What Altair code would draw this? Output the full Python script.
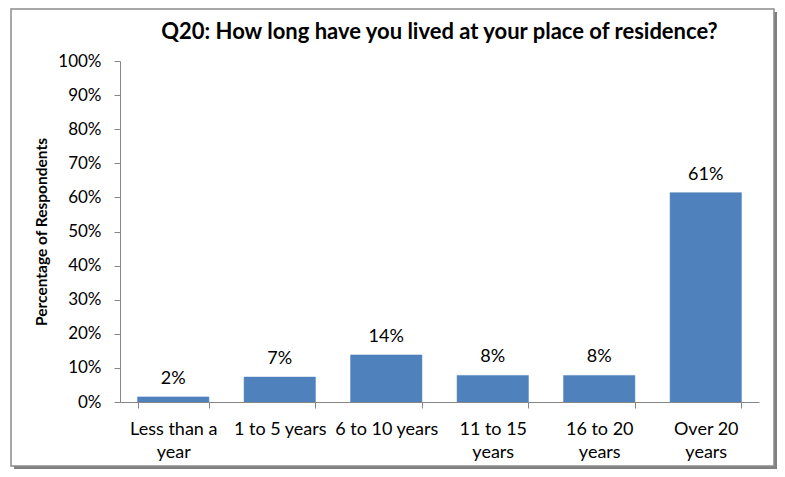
import altair as alt
import pandas as pd

categories = ["Less than a year", "1 to 5 years", "6 to 10 years",
              "11 to 15 years", "16 to 20 years", "Over 20 years"]
values = [0.015, 0.073, 0.138, 0.078, 0.078, 0.614]
label_text = ["2%", "7%", "14%", "8%", "8%", "61%"]
y_ticks = [0.0, 0.1, 0.2, 0.3, 0.4, 0.5, 0.6, 0.7, 0.8, 0.9, 1.0]
wrapped = {
    "Less than a year": ["Less than a", "year"],
    "1 to 5 years": ["1 to 5 years"],
    "6 to 10 years": ["6 to 10 years"],
    "11 to 15 years": ["11 to 15", "years"],
    "16 to 20 years": ["16 to 20", "years"],
    "Over 20 years": ["Over 20", "years"],
}

df = pd.DataFrame({"cat": categories, "val": values, "lab": label_text})

expr = "''"
for k, v in reversed(list(wrapped.items())):
    arr = "[" + ",".join("'" + s + "'" for s in v) + "]"
    expr = f"datum.label == '{k}' ? {arr} : ({expr})"

FONT = "Lato"
FS = 18

frame_data = alt.Data(values=[{"a": 1}])
shadow = alt.Chart(frame_data).mark_rect(fill="#808080").encode(
    x=alt.value(-106), x2=alt.value(657), y=alt.value(-49), y2=alt.value(408)
)
frame = alt.Chart(frame_data).mark_rect(fill="white", stroke="#8c8c8c", strokeWidth=1.5).encode(
    x=alt.value(-109), x2=alt.value(654), y=alt.value(-52), y2=alt.value(405)
)

x = alt.X("cat:N", sort=categories, title=None,
          scale=alt.Scale(paddingInner=0.33, paddingOuter=0.165),
          axis=alt.Axis(labelAngle=0, labelExpr=expr, tickBand="extent",
                        labelFontSize=FS, labelFont=FONT, labelColor="black",
                        labelPadding=12, labelLineHeight=23, tickSize=6,
                        domainColor="#868686", tickColor="#868686",
                        labelBaseline="top", zindex=1))
y = alt.Y("val:Q", title="Percentage of Respondents",
          scale=alt.Scale(domain=[0, 1], nice=False),
          axis=alt.Axis(format=".0%", values=y_ticks,
                        labelFontSize=17, labelFont=FONT, labelColor="black",
                        labelOverlap=False, labelFlush=False, labelBound=False,
                        labelPadding=13, tickSize=6, grid=False,
                        domainColor="#868686", tickColor="#868686",
                        titleFont=FONT, titleFontSize=15.5, titleFontWeight="bold",
                        titleColor="black", titlePadding=8, zindex=1))

bars = alt.Chart(df).mark_bar(color="#4F81BD", stroke="#4A7EBB", strokeWidth=0.5).encode(x=x, y=y)
labels = alt.Chart(df).mark_text(baseline="bottom", dy=-9, fontSize=FS, font=FONT, color="black").encode(
    x=x, y=y, text="lab:N")

chart = alt.layer(shadow, frame, bars, labels).properties(
    width=639, height=341,
    title=alt.TitleParams("Q20: How long have you lived at your place of residence?",
                          font=FONT, fontSize=22, fontWeight="bold", color="black",
                          anchor="middle", offset=0, dy=53, baseline="alphabetic", zindex=1),
    autosize=alt.AutoSizeParams(type="none"),
    padding={"left": 112, "top": 53, "right": 18, "bottom": 67},
).configure_view(stroke=None).configure(background="white")

chart.save("out.html", embed_options={"renderer": "svg", "actions": False})
